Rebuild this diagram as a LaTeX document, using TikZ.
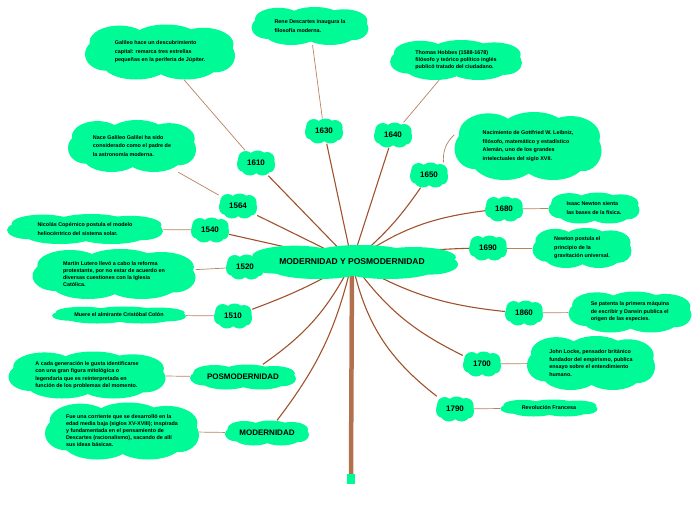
\documentclass[tikz,border=0pt]{standalone}
\usepackage{fontspec}
\setmainfont{Liberation Sans}
\usetikzlibrary{backgrounds}
\definecolor{cgreen}{RGB}{0,250,150}
\definecolor{brn}{RGB}{160,82,45}
\definecolor{lbrn}{RGB}{185,130,95}
\definecolor{stemc}{RGB}{178,112,78}
\pgfdeclarelayer{conn}
\pgfdeclarelayer{clouds}
\pgfsetlayers{conn,clouds,main}
\tikzset{
  txt/.style={inner sep=0pt, align=left},
  desc/.style={txt, font=\fontsize{5.4}{8.5}\selectfont\bfseries},
  yrt/.style={txt, font=\fontsize{8}{9}\selectfont\bfseries},
  puff/.style={fill=cgreen, draw=none},
  trunk/.style={draw=brn, line width=1.1pt},
  twig/.style={draw=lbrn, line width=0.7pt}
}
% \cldnode{name}{x}{y}{W}{H}{style}{text}
\newcommand\cldnode[7]{%
  \node[#6, minimum width=#4pt, minimum height=#5pt] (#1) at (#2,#3) {#7};
  \begin{pgfonlayer}{clouds}
  \begin{scope}[shift={(#1.center)}]
    \fill[puff] (0,0) ellipse [x radius={0.42*#4pt}, y radius={0.32*#5pt}];
    \fill[puff] ({-0.27*#4},{-0.18*#5}) ellipse [x radius={0.2*#4pt}, y radius={0.3*#5pt}];
    \fill[puff] ({0.04*#4},{-0.25*#5}) ellipse [x radius={0.22*#4pt}, y radius={0.25*#5pt}];
    \fill[puff] ({0.29*#4},{-0.14*#5}) ellipse [x radius={0.2*#4pt}, y radius={0.3*#5pt}];
    \fill[puff] ({-0.36*#4},{0.04*#5}) ellipse [x radius={0.14*#4pt}, y radius={0.3*#5pt}];
    \fill[puff] ({0.37*#4},{0.07*#5}) ellipse [x radius={0.13*#4pt}, y radius={0.3*#5pt}];
    \fill[puff] ({-0.16*#4},{0.22*#5}) ellipse [x radius={0.22*#4pt}, y radius={0.28*#5pt}];
    \fill[puff] ({0.17*#4},{0.22*#5}) ellipse [x radius={0.22*#4pt}, y radius={0.28*#5pt}];
  \end{scope}
  \end{pgfonlayer}}
\begin{document}
\begin{tikzpicture}[x=1pt,y=-1pt]
\useasboundingbox (0,0) rectangle (696,520);
% central
\cldnode{c}{352}{262}{212}{34}{txt, font=\fontsize{8.5}{9}\selectfont\bfseries}{MODERNIDAD Y POSMODERNIDAD}
\node[fill=cgreen, minimum width=8pt, minimum height=10pt, inner sep=0pt] (base) at (351,479) {};
% years
\cldnode{y1630}{324}{131}{38}{25}{yrt}{1630}
\cldnode{y1640}{393}{135}{38}{25}{yrt}{1640}
\cldnode{y1610}{256}{163}{38}{25}{yrt}{1610}
\cldnode{y1650}{429}{175}{38}{25}{yrt}{1650}
\cldnode{y1564}{238}{206}{38}{25}{yrt}{1564}
\cldnode{y1540}{210}{230}{38}{25}{yrt}{1540}
\cldnode{y1680}{504}{209}{38}{25}{yrt}{1680}
\cldnode{y1520}{245}{267}{38}{25}{yrt}{1520}
\cldnode{y1690}{488}{248}{38}{25}{yrt}{1690}
\cldnode{y1510}{233}{316}{38}{25}{yrt}{1510}
\cldnode{y1860}{524}{313}{38}{25}{yrt}{1860}
\cldnode{y1700}{482}{364}{38}{25}{yrt}{1700}
\cldnode{y1790}{455}{409}{38}{25}{yrt}{1790}
\cldnode{posm}{243}{377}{106}{25}{yrt}{POSMODERNIDAD}
\cldnode{mod}{267}{433}{84}{25}{yrt}{MODERNIDAD}
% descriptions
\cldnode{dGal}{160}{52}{150}{55}{desc}{Galileo hace un descubrimiento\\capital: remarca tres estrellas\\pequeñas en la periferia de Júpiter.}
\cldnode{dDes}{310}{26}{117}{38}{desc}{Rene Descartes inaugura la\\filosofía moderna.}
\cldnode{dHob}{456}{60}{132}{40}{desc, font=\fontsize{5.4}{7}\selectfont\bfseries}{Thomas Hobbes (1588-1678)\\filósofo y teórico político inglés\\publicó tratado del ciudadano.}
\cldnode{dNace}{132}{146}{128}{52}{desc}{Nace Galileo Galilei ha sido\\considerado como el padre de\\la astronomía moderna.}
\cldnode{dLei}{528}{146}{147}{68}{desc}{Nacimiento de Gottfried W. Leibniz,\\filósofo, matemático y estadístico\\Alemán, uno de los grandes\\intelectuales del siglo XVII.}
\cldnode{dCop}{85}{229}{156}{30}{desc}{Nicolás Copérnico postula el modelo\\heliocéntrico del sistema solar.}
\cldnode{dLut}{114}{274}{163}{50}{desc, font=\fontsize{5.4}{7}\selectfont\bfseries}{Martín Lutero llevó a cabo la reforma\\protestante, por no estar de acuerdo en\\diversas cuestiones con la Iglesia\\Católica.}
\cldnode{dNew}{594}{208}{91}{31}{desc}{Isaac Newton sienta\\las bases de la física.}
\cldnode{dNew2}{582}{248}{99}{40}{desc}{Newton postula el\\principio de la\\gravitación universal.}
\cldnode{dPat}{630}{312}{123}{41}{desc, font=\fontsize{5.4}{7.5}\selectfont\bfseries}{Se patenta la primera máquina\\de escribir y Darwin publica el\\origen de las especies.}
\cldnode{dLoc}{591}{363}{128}{54}{desc, font=\fontsize{5.4}{7.5}\selectfont\bfseries}{John Locke, pensador británico\\fundador del empirismo, publica\\ensayo sobre el entendimiento\\humano.}
\cldnode{dCol}{119}{315}{134}{17}{desc}{Muere el almirante Cristóbal Colón}
\cldnode{dCada}{87}{375}{157}{47}{desc, font=\fontsize{5.4}{7.5}\selectfont\bfseries}{A cada generación le gusta identificarse\\con una gran figura mitológica o\\legendaria que es reinterpretada en\\función de los problemas del momento.}
\cldnode{dFue}{122}{431}{154}{57}{desc, font=\fontsize{5.4}{7}\selectfont\bfseries}{Fue una corriente que se desarrolló en la\\edad media baja (siglos XV-XVIII); inspirada\\y fundamentada en el pensamiento de\\Descartes (racionalismo), sacando de allí\\sus ideas básicas.}
\cldnode{dRev}{549}{408}{97}{17}{desc}{Revolución Francesa}
% connectors
\begin{pgfonlayer}{conn}
\draw[draw=stemc, line width=4.5pt] (c.center) -- (base.north);
\draw[trunk] (c.center) -- (y1630);
\draw[trunk] (c.center) -- (y1640);
\draw[trunk] (c.center) -- (y1610);
\draw[trunk] (c.center) to[bend right=8] (y1650);
\draw[trunk] (c.center) -- (y1564);
\draw[trunk] (c.center) -- (y1540);
\draw[trunk] (c.center) to[bend left=14] (y1680);
\draw[trunk] (c.center) -- (y1520);
\draw[trunk] (c.center) to[bend left=5] (y1690);
\draw[trunk] (c.center) to[bend left=5] (y1510);
\draw[trunk] (c.center) to[bend right=12] (y1860);
\draw[trunk] (c.center) to[bend right=14] (y1700);
\draw[trunk] (c.center) to[bend right=20] (y1790);
\draw[trunk] (c.center) to[bend left=14] (posm);
\draw[trunk] (c.center) to[bend left=12] (mod);
\draw[twig] (dGal) -- (y1610);
\draw[twig] (dDes) -- (y1630);
\draw[twig] (dHob) -- (y1640);
\draw[twig] (dNace) -- (y1564);
\draw[twig] (dLei) to[bend right=25] (y1650);
\draw[twig] (dCop) -- (y1540);
\draw[twig] (dLut) -- (y1520);
\draw[twig] (dNew) -- (y1680);
\draw[twig] (dNew2) -- (y1690);
\draw[twig] (dPat) -- (y1860);
\draw[twig] (dLoc) -- (y1700);
\draw[twig] (dCol) -- (y1510);
\draw[twig] (dCada) -- (posm);
\draw[twig] (dFue) -- (mod);
\draw[twig] (dRev) -- (y1790);
\end{pgfonlayer}
\end{tikzpicture}
\end{document}
